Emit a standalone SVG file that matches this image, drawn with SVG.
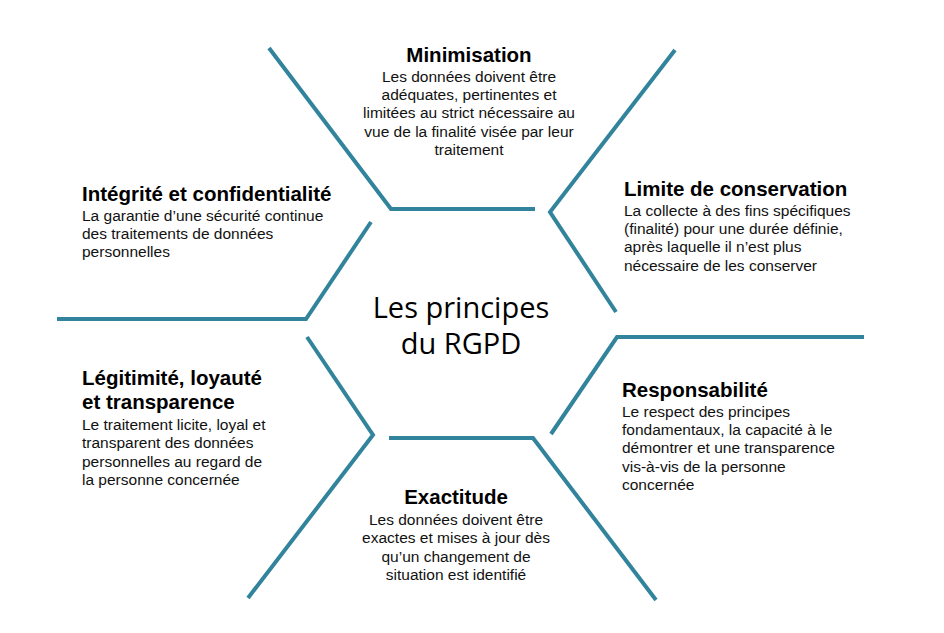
<svg xmlns="http://www.w3.org/2000/svg" width="944" height="633" viewBox="0 0 944 633">
<style>
.ln{fill:none;stroke:#31849B;stroke-width:4;stroke-linejoin:miter}
.t{font-family:"Liberation Sans",Arial,sans-serif;font-weight:bold;font-size:20.5px;fill:#000}
.b{font-family:"Liberation Sans",Arial,sans-serif;font-size:15.5px;fill:#111}
.c{text-anchor:middle}
.ctr{font-family:"Open Sans","Noto Sans",sans-serif;font-size:29px;fill:#000;text-anchor:middle}
</style>
<rect width="944" height="633" fill="#fff"/>
<g id="connectors">
<polyline class="ln" points="269,48 391,209 535,209"/>
<polyline class="ln" points="675,50 550,212 616,312"/>
<polyline class="ln" points="864,337 617,337 551,434"/>
<polyline class="ln" points="656,600 533,438 389,438"/>
<polyline class="ln" points="307,337 373,435 248,598"/>
<polyline class="ln" points="57,319 306,319 371,222"/>
</g>
<g id="center">
<text class="ctr" x="461" y="318">Les principes</text>
<text class="ctr" x="461" y="354">du RGPD</text>
</g>
<g id="minimisation">
<text class="t c" x="469" y="62">Minimisation</text>
<text class="b c" x="469" y="82">Les données doivent être</text>
<text class="b c" x="469" y="100">adéquates, pertinentes et</text>
<text class="b c" x="469" y="118">limitées au strict nécessaire au</text>
<text class="b c" x="469" y="137">vue de la finalité visée par leur</text>
<text class="b c" x="469" y="155">traitement</text>
</g>
<g id="integrite">
<text class="t" x="82" y="201">Intégrité et confidentialité</text>
<text class="b" x="82" y="221">La garantie d’une sécurité continue</text>
<text class="b" x="82" y="239">des traitements de données</text>
<text class="b" x="82" y="257">personnelles</text>
</g>
<g id="limite">
<text class="t" x="624" y="196">Limite de conservation</text>
<text class="b" x="624" y="216">La collecte à des fins spécifiques</text>
<text class="b" x="624" y="234">(finalité) pour une durée définie,</text>
<text class="b" x="624" y="252">après laquelle il n’est plus</text>
<text class="b" x="624" y="271">nécessaire de les conserver</text>
</g>
<g id="legitimite">
<text class="t" x="82" y="385">Légitimité, loyauté</text>
<text class="t" x="82" y="409">et transparence</text>
<text class="b" x="82" y="430">Le traitement licite, loyal et</text>
<text class="b" x="82" y="448">transparent des données</text>
<text class="b" x="82" y="467">personnelles au regard de</text>
<text class="b" x="82" y="485">la personne concernée</text>
</g>
<g id="responsabilite">
<text class="t" x="622" y="397">Responsabilité</text>
<text class="b" x="622" y="417">Le respect des principes</text>
<text class="b" x="622" y="435">fondamentaux, la capacité à le</text>
<text class="b" x="622" y="453">démontrer et une transparence</text>
<text class="b" x="622" y="472">vis-à-vis de la personne</text>
<text class="b" x="622" y="490">concernée</text>
</g>
<g id="exactitude">
<text class="t c" x="456" y="504">Exactitude</text>
<text class="b c" x="456" y="525">Les données doivent être</text>
<text class="b c" x="456" y="543">exactes et mises à jour dès</text>
<text class="b c" x="456" y="562">qu’un changement de</text>
<text class="b c" x="456" y="580">situation est identifié</text>
</g>
</svg>
